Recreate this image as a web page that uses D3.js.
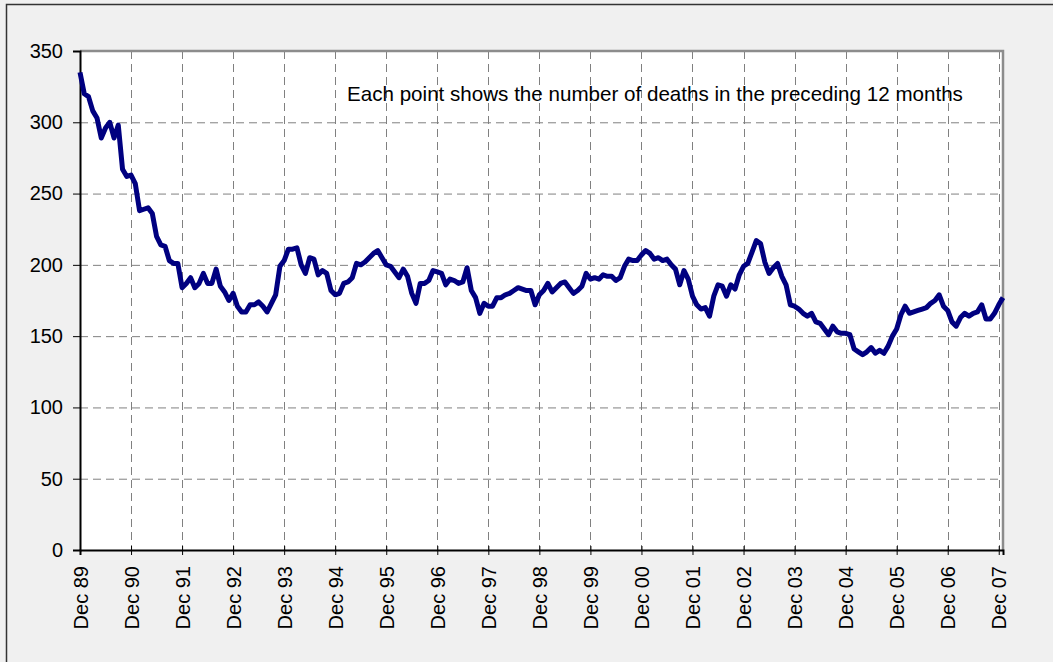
<!DOCTYPE html>
<html>
<head>
<meta charset="utf-8">
<script src="https://cdn.jsdelivr.net/npm/d3@7"></script>
<style>
  body { margin: 0; background: #f0f0f0; }
  svg text { font-family: "Liberation Sans", Arial, sans-serif; fill: #000; }
</style>
</head>
<body>
<div id="chart"></div>
<script>
// deaths in the preceding 12 months, one value per month from Dec 89
const deaths = [
  335, 320, 318, 308, 303, 289, 296, 300, 289, 298, 267, 262,
  263, 257, 238, 239, 240, 236, 220, 214, 213, 203, 201, 201,
  184, 187, 191, 184, 187, 194, 187, 187, 197, 185, 181, 175,
  180, 171, 167, 167, 172, 172, 174, 171, 167, 173, 179, 199,
  203, 211, 211, 212, 200, 194, 205, 204, 193, 196, 194, 182,
  179, 180, 187, 188, 191, 201, 200, 202, 205, 208, 210, 205,
  200, 199, 195, 191, 197, 192, 180, 173, 187, 187, 189, 196,
  195, 194, 186, 190, 189, 187, 188, 198, 182, 177, 166, 173,
  171, 171, 177, 177, 179, 180, 182, 184, 183, 182, 182, 172,
  179, 182, 187, 181, 184, 187, 188, 184, 180, 182, 185, 194,
  190, 191, 190, 193, 192, 192, 189, 191, 199, 204, 203, 203,
  207, 210, 208, 204, 205, 203, 204, 200, 197, 186, 196, 190,
  178, 172, 169, 170, 164, 178, 186, 185, 178, 186, 183, 193,
  199, 201, 209, 217, 215, 202, 194, 198, 201, 192, 186, 172,
  171, 169, 166, 164, 166, 160, 159, 155, 151, 157, 153, 152,
  152, 151, 141, 139, 137, 139, 142, 138, 140, 138, 143, 150,
  155, 165, 171, 166, 167, 168, 169, 170, 173, 175, 179, 171,
  168, 160, 157, 163, 166, 164, 166, 167, 172, 162, 162, 166,
  172, 177
];
const tickLabels = ["Dec 89", "Dec 90", "Dec 91", "Dec 92", "Dec 93", "Dec 94",
  "Dec 95", "Dec 96", "Dec 97", "Dec 98", "Dec 99", "Dec 00", "Dec 01",
  "Dec 02", "Dec 03", "Dec 04", "Dec 05", "Dec 06", "Dec 07"];
const yTicks = [0, 50, 100, 150, 200, 250, 300, 350];
const note = "Each point shows the number of deaths in the preceding 12 months";

const W = 1053, H = 662;
const plot = {left: 80, top: 51, right: 1003, bottom: 550};

const svg = d3.select("#chart").append("svg")
  .attr("width", W).attr("height", H);

// outer frame
svg.append("rect")
  .attr("x", 6.5).attr("y", 4.5)
  .attr("width", W + 10).attr("height", H + 10)
  .attr("fill", "#f0f0f0").attr("stroke", "#333").attr("stroke-width", 1.5);

const x = d3.scaleLinear()
  .domain([0, deaths.length - 1])
  .range([plot.left, plot.right]);
const y = d3.scaleLinear()
  .domain([0, 350])
  .range([plot.bottom, plot.top]);

// plot area
svg.append("rect")
  .attr("x", plot.left).attr("y", plot.top)
  .attr("width", plot.right - plot.left).attr("height", plot.bottom - plot.top)
  .attr("fill", "#fff");

// grid
const grid = svg.append("g").attr("stroke", "#808080").attr("stroke-dasharray", "8,5");
grid.selectAll("line.h").data(yTicks.filter(d => d > 0 && d < 350)).enter()
  .append("line").attr("class", "h")
  .attr("x1", plot.left).attr("x2", plot.right)
  .attr("y1", d => y(d) + 0.5).attr("y2", d => y(d) + 0.5);
grid.selectAll("line.v").data(tickLabels.slice(1)).enter()
  .append("line").attr("class", "v")
  .attr("x1", (d, i) => Math.round(x((i + 1) * 12)) + 0.5)
  .attr("x2", (d, i) => Math.round(x((i + 1) * 12)) + 0.5)
  .attr("y1", plot.top).attr("y2", plot.bottom);

// plot border (top and right)
svg.append("path")
  .attr("d", `M${plot.left},${plot.top} H${plot.right} V${plot.bottom}`)
  .attr("fill", "none").attr("stroke", "#8c8c8c").attr("stroke-width", 2.5);

// y axis
const yAxis = svg.append("g")
  .attr("transform", `translate(${plot.left},0)`)
  .call(d3.axisLeft(y).tickValues(yTicks).tickSize(7).tickPadding(10));
yAxis.select(".domain").attr("stroke", "#000").attr("stroke-width", 2);
yAxis.selectAll("text").style("font-size", "20px");

// x axis
const xAxis = svg.append("g")
  .attr("transform", `translate(0,${plot.bottom})`)
  .call(d3.axisBottom(x)
    .tickValues(tickLabels.map((d, i) => i * 12))
    .tickFormat((d, i) => tickLabels[i])
    .tickSize(5));
xAxis.select(".domain").attr("stroke", "#000").attr("stroke-width", 2);
xAxis.selectAll(".tick line").attr("y1", -4);
xAxis.selectAll("text")
  .style("font-size", "20px")
  .attr("text-anchor", "end")
  .attr("transform", "rotate(-90)")
  .attr("x", -16).attr("y", 0).attr("dy", "0.35em");

// line
svg.append("path")
  .datum(deaths)
  .attr("fill", "none")
  .attr("stroke", "#000080")
  .attr("stroke-width", 5)
  .attr("stroke-linejoin", "round")
  .attr("d", d3.line().x((d, i) => x(i)).y(d => y(d)));

// annotation
svg.append("text")
  .attr("x", 347).attr("y", 101)
  .style("font-size", "20.6px")
  .text(note);
</script>
</body>
</html>
